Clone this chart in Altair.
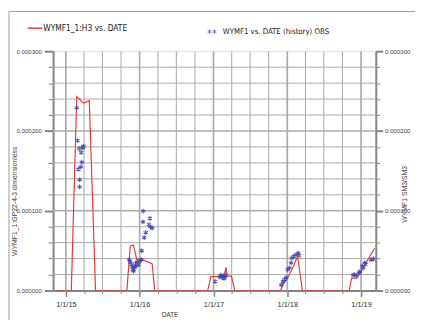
import altair as alt
import pandas as pd

# ---- simulated curve (red line) ----
line_dates = [
    "2014-10-30", "2015-01-28", "2015-02-24", "2015-03-29", "2015-04-27", "2015-05-28",
    "2015-10-30", "2015-11-16", "2015-12-02", "2015-12-18", "2016-01-03", "2016-03-03", "2016-03-16",
    "2016-12-03", "2016-12-19", "2017-02-11", "2017-02-25", "2017-03-04", "2017-03-08", "2017-03-31", "2017-04-16",
    "2017-11-29", "2017-12-10", "2018-01-03", "2018-01-28", "2018-02-21", "2018-03-17",
    "2018-11-04", "2018-11-15", "2018-12-09", "2018-12-22", "2019-03-09",
]
line_values = [
    0, 0, 0.000243, 0.000235, 0.000238, 0,
    0, 0.0000559, 0.0000572, 0.0000387, 0.0000399, 0.0000337, 0,
    0, 0.0000175, 0.0000175, 0.000022, 0.000029, 0.000018, 0.000018, 0,
    0, 0.000007, 0.000016, 0.0000284, 0.0000428, 0,
    0, 0.0000152, 0.0000155, 0.00002, 0.000053,
]

# ---- history observations (blue stars) ----
obs_dates = [
    "2015-02-24", "2015-02-28", "2015-03-04", "2015-03-08", "2015-03-10", "2015-03-10",
    "2015-03-16", "2015-03-18", "2015-03-21", "2015-03-26", "2015-03-29",
    "2015-11-11", "2015-11-16", "2015-11-22", "2015-11-25", "2015-11-29", "2015-12-02", "2015-12-05",
    "2015-12-08", "2015-12-12", "2015-12-15", "2015-12-21", "2015-12-28", "2016-01-03", "2016-01-10",
    "2016-01-11", "2016-01-18", "2016-01-19", "2016-01-24", "2016-01-31", "2016-02-16", "2016-02-21",
    "2016-02-24", "2016-03-03",
    "2017-01-09", "2017-02-01", "2017-02-06", "2017-02-11", "2017-02-17", "2017-02-22", "2017-02-27",
    "2017-03-02",
    "2017-12-02", "2017-12-10", "2017-12-18", "2017-12-27", "2018-01-03", "2018-01-12", "2018-01-20",
    "2018-01-23", "2018-02-02", "2018-02-13", "2018-02-24", "2018-03-01",
    "2018-11-23", "2018-12-01", "2018-12-09", "2018-12-22", "2018-12-26", "2019-01-07", "2019-01-11",
    "2019-01-19", "2019-01-24", "2019-02-20", "2019-03-03",
]
obs_values = [
    0.000229, 0.000188, 0.000152, 0.000178, 0.000139, 0.000130,
    0.000155, 0.000173, 0.000161, 0.000179, 0.000181,
    0.0000387, 0.0000358, 0.0000325, 0.000030, 0.0000263, 0.0000243, 0.000028,
    0.0000293, 0.000034, 0.000031, 0.0000358, 0.0000325, 0.000037, 0.0000387,
    0.0000498, 0.000086, 0.0000996, 0.0000663, 0.0000725, 0.0000827, 0.0000905,
    0.0000798, 0.0000782,
    0.0000115, 0.0000169, 0.0000193, 0.0000169, 0.0000177, 0.0000152, 0.0000169,
    0.0000193,
    0.000007, 0.0000111, 0.000014, 0.000016, 0.0000263, 0.0000284, 0.0000346,
    0.0000407, 0.0000428, 0.0000448, 0.0000469, 0.000044,
    0.0000193, 0.000020, 0.000018, 0.000022, 0.0000235, 0.0000305, 0.0000284,
    0.0000346, 0.000033, 0.0000387, 0.0000395,
]

# ---- ticks / grid ----
y_tick_values = [round(i * 0.00002, 6) for i in range(16)]
y_major_grid = [0.0001, 0.0002]
y_minor_grid = [0.00002, 0.00004, 0.00006, 0.00008, 0.00012, 0.00014, 0.00016, 0.00018,
                0.00022, 0.00024, 0.00026, 0.00028]
x_year_grid = ["2015-01-01", "2016-01-01", "2017-01-01", "2018-01-01", "2019-01-01"]
x_quarter_grid = ["2015-04-01", "2015-07-01", "2015-10-01", "2016-04-01", "2016-07-01", "2016-10-01",
                  "2017-04-01", "2017-07-01", "2017-10-01", "2018-04-01", "2018-07-01", "2018-10-01"]

legend_line_label = ["WYMF1_1:H3 vs. DATE"]
legend_obs_label = ["WYMF1 vs. DATE (history) OBS"]
left_title = ["WYMF1_1:GP22-4-3   dimensionless"]
right_title = ["WYMF1   SM3/SM3"]
x_title = ["DATE"]

W, H = 329, 244
RED = "#e23b3b"
BLUE = "#4444b0"
AX = "#858585"
FONT = "Liberation Sans"
NARROW = "Liberation Sans Narrow, DejaVu Sans Condensed, Liberation Sans"
ASTER = "M0,-1L0,1M-0.87,-0.5L0.87,0.5M-0.87,0.5L0.87,-0.5"

line_df = pd.DataFrame({"date": line_dates, "value": line_values})
obs_df = pd.DataFrame({"date": obs_dates, "value": obs_values})
qgrid_df = pd.DataFrame({"qd": x_quarter_grid})
ygrid_df = pd.DataFrame({"yd": x_year_grid})
mgrid_df = pd.DataFrame({"mv": y_minor_grid})
Mgrid_df = pd.DataFrame({"Mv": y_major_grid})

xscale = alt.Scale(
    type="utc",
    domain=[alt.DateTime(year=2014, month=10, date=30, utc=True),
            alt.DateTime(year=2019, month=3, date=15, utc=True)],
)
yscale = alt.Scale(domain=[0, 0.0003], nice=False, zero=False)

major_y = "abs(datum.value * 10000 - round(datum.value * 10000)) < 0.01"
year_x = "utcmonth(datum.value) == 0"

x_axis = alt.Axis(
    title=None, grid=False,
    tickCount={"interval": "month", "step": 3},
    labelExpr="utcmonth(datum.value) == 0 ? utcFormat(datum.value, '%-m/%-d/%y') : ''",
    labelFont=FONT, labelFontSize=7.5, labelColor="#333", labelPadding=4,
    labelFlush=False, labelOverlap=False,
    tickSize={"condition": {"test": year_x, "value": 6}, "value": 3},
    tickColor=AX, tickWidth={"condition": {"test": year_x, "value": 1.5}, "value": 1},
    domainColor=AX, domainWidth=2,
)

y_left = alt.Axis(
    title=None, orient="left", values=y_tick_values, grid=False,
    labelExpr=major_y + " ? format(datum.value, '.6f') : ''",
    labelFont=FONT, labelFontSize=6.2, labelColor="#444", labelPadding=3,
    labelFlush=False, labelOverlap=False,
    tickSize={"condition": {"test": major_y, "value": 9}, "value": 5},
    tickWidth={"condition": {"test": major_y, "value": 2}, "value": 1},
    tickColor=AX, domainColor=AX, domainWidth=2,
)

y_right = alt.Axis(
    title=None, orient="right", values=y_tick_values, grid=False,
    labelExpr=major_y + " ? format(datum.value, '.6f') : ''",
    labelFont=FONT, labelFontSize=6.2, labelColor="#444", labelPadding=2,
    labelFlush=False, labelOverlap=False,
    tickSize={"condition": {"test": major_y, "value": 7}, "value": 4},
    tickWidth={"condition": {"test": major_y, "value": 2}, "value": 1},
    tickColor=AX, domainColor=AX, domainWidth=2,
)

year_lines = alt.Chart(ygrid_df).mark_rule(color="#ababab", strokeWidth=1.7).encode(
    x=alt.X("yd:T", scale=xscale, axis=None))
major_lines = alt.Chart(Mgrid_df).mark_rule(color="#ababab", strokeWidth=1.7).encode(
    y=alt.Y("Mv:Q", scale=yscale, axis=None))
quarter_lines = alt.Chart(qgrid_df).mark_rule(color="#a8a8a8", strokeWidth=1).encode(
    x=alt.X("qd:T", scale=xscale, axis=None))
minor_lines = alt.Chart(mgrid_df).mark_rule(color="#a8a8a8", strokeWidth=1).encode(
    y=alt.Y("mv:Q", scale=yscale, axis=None))

line = alt.Chart(line_df).mark_line(color=RED, strokeWidth=1.2, clip=True).encode(
    x=alt.X("date:T", scale=xscale, axis=x_axis),
    y=alt.Y("value:Q", scale=yscale, axis=y_left),
)

pts = alt.Chart(obs_df).mark_point(
    shape=ASTER, size=24, filled=False, color=BLUE, strokeWidth=1.1, opacity=0.9
).encode(
    x=alt.X("date:T", scale=xscale, axis=None),
    y=alt.Y("value:Q", scale=yscale, axis=y_right),
)

one = pd.DataFrame({"k": [0]})

def label(values, x, y, size, font, angle=0, align="left", color="#222"):
    df = pd.DataFrame({"t": values})
    kw = dict(align=align, baseline="middle", font=font, fontSize=size, color=color)
    if angle:
        kw["angle"] = angle
    return alt.Chart(df).mark_text(**kw).encode(
        x=alt.value(x), y=alt.value(y), text="t:N")

leg_line = alt.Chart(one).mark_rule(color=RED, strokeWidth=1.5).encode(
    x=alt.value(-26), x2=alt.value(-11), y=alt.value(-23.5))
leg_star1 = alt.Chart(one).mark_point(shape=ASTER, size=20, filled=False, color=BLUE, strokeWidth=1).encode(
    x=alt.value(159.5), y=alt.value(-20))
leg_star2 = alt.Chart(one).mark_point(shape=ASTER, size=20, filled=False, color=BLUE, strokeWidth=1).encode(
    x=alt.value(164.5), y=alt.value(-20))

frame_left = alt.Chart(one).mark_rule(color="#9a9a9a", strokeWidth=1).encode(
    x=alt.value(-45), y=alt.value(-40.5), y2=alt.value(H + 30))
frame_top = alt.Chart(one).mark_rule(color="#9a9a9a", strokeWidth=1).encode(
    x=alt.value(-45), x2=alt.value(W + 40), y=alt.value(-40.5))

chart = alt.layer(
    year_lines, major_lines, quarter_lines, minor_lines,
    line, pts,
    leg_line, leg_star1, leg_star2,
    label(legend_line_label, -10, -23.5, 8.5, NARROW),
    label(legend_obs_label, 173, -20, 7.9, NARROW),
    label(left_title, -39, 153, 7, FONT, angle=270, align="center", color="#444"),
    label(right_title, 359, 146, 7, FONT, angle=270, align="center", color="#444"),
    label(x_title, 119, H + 25, 7, NARROW, align="center", color="#444"),
    frame_left, frame_top,
).resolve_axis(y="independent", x="independent").properties(
    width=W, height=H,
    autosize=alt.AutoSizeParams(type="none"),
    padding={"left": 46, "top": 41, "right": 40, "bottom": 27},
).configure_view(stroke=None).configure(background="white")

chart.save("out.html", embed_options={"renderer": "svg", "actions": False})
